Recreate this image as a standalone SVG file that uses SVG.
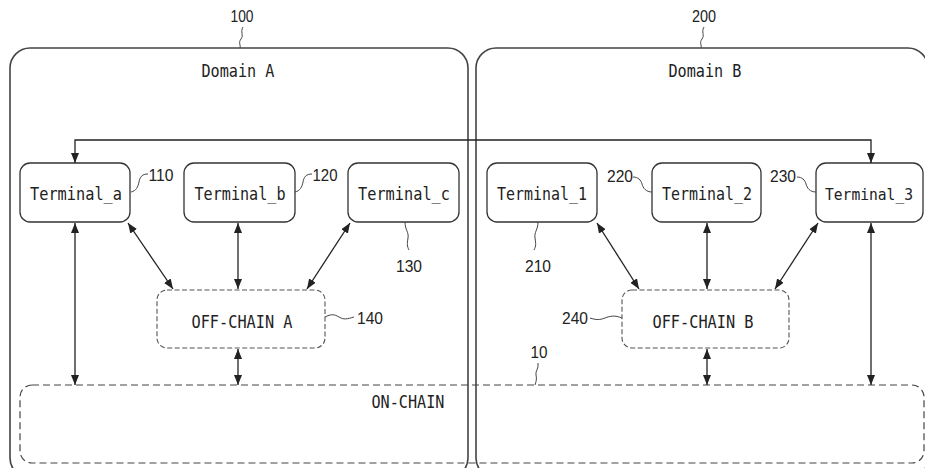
<svg xmlns="http://www.w3.org/2000/svg" width="925" height="468" viewBox="0 0 925 468">
<defs>
<marker id="ah" markerUnits="userSpaceOnUse" markerWidth="10" markerHeight="8" refX="10" refY="4" orient="auto-start-reverse">
<path d="M0,0 L10,4 L0,8 z" fill="#222"/>
</marker>
<style>
.dom{fill:none;stroke:#444;stroke-width:1.6}
.term{fill:#fff;stroke:#333;stroke-width:1.3}
.off{fill:#fff;stroke:#555;stroke-width:1.1;stroke-dasharray:5 2.5}
.on{fill:none;stroke:#444;stroke-width:1.2;stroke-dasharray:7 4}
.con{fill:none;stroke:#222;stroke-width:1.3;marker-start:url(#ah);marker-end:url(#ah)}
.lead{fill:none;stroke:#444;stroke-width:1}
.lbl{font-family:"DejaVu Sans Mono","Liberation Mono",monospace;font-size:17px;fill:#222;text-anchor:middle}
.num{font-family:"Liberation Sans",Arial,sans-serif;font-size:16.5px;fill:#222;text-anchor:middle}
</style>
</defs>
<rect width="925" height="468" fill="#fff"/>

<g id="domainA">
<rect class="dom" x="10" y="48" width="458" height="430" rx="20"/>
<text class="lbl" x="238" y="77" textLength="73" lengthAdjust="spacingAndGlyphs">Domain A</text>
<text class="num" x="242" y="22" textLength="23" lengthAdjust="spacingAndGlyphs">100</text>
<path class="lead" d="M243,27 c-3,5 1,8 -2,12 s0,6 -1,9"/>
</g>
<g id="domainB">
<rect class="dom" x="476" y="48" width="452" height="430" rx="20"/>
<text class="lbl" x="705" y="77" textLength="73" lengthAdjust="spacingAndGlyphs">Domain B</text>
<text class="num" x="704" y="22" textLength="24" lengthAdjust="spacingAndGlyphs">200</text>
<path class="lead" d="M704,27 c-3,5 1,8 -2,12 s0,6 -1,9"/>
</g>

<g id="onchain">
<rect class="on" x="20" y="385" width="904" height="78" rx="12"/>
<text class="lbl" x="408" y="408" textLength="73" lengthAdjust="spacingAndGlyphs">ON-CHAIN</text>
<text class="num" x="539" y="358" textLength="17" lengthAdjust="spacingAndGlyphs">10</text>
<path class="lead" d="M538,363 c1,6 -3,8 -2,12 s0,7 -1,10"/>
</g>

<g id="terminal_a">
<rect class="term" x="20" y="163" width="110" height="59" rx="10"/>
<text class="lbl" x="76" y="200" textLength="92" lengthAdjust="spacingAndGlyphs">Terminal_a</text>
<text class="num" x="161" y="181" textLength="25" lengthAdjust="spacingAndGlyphs">110</text>
<path class="lead" d="M148,174 c-6,0 -8,3 -9,8 s-3,9 -8,10"/>
</g>
<g id="terminal_b">
<rect class="term" x="184" y="163" width="111" height="59" rx="10"/>
<text class="lbl" x="240" y="200" textLength="91" lengthAdjust="spacingAndGlyphs">Terminal_b</text>
<text class="num" x="325" y="181" textLength="25" lengthAdjust="spacingAndGlyphs">120</text>
<path class="lead" d="M312,174 c-6,0 -8,3 -9,8 s-3,9 -8,10"/>
</g>
<g id="terminal_c">
<rect class="term" x="348" y="163" width="111" height="59" rx="10"/>
<text class="lbl" x="404" y="200" textLength="92" lengthAdjust="spacingAndGlyphs">Terminal_c</text>
<text class="num" x="409" y="272" textLength="26" lengthAdjust="spacingAndGlyphs">130</text>
<path class="lead" d="M405,222 c0,8 4,10 3,16 s-1,8 1,12"/>
</g>
<g id="terminal_1">
<rect class="term" x="487" y="163" width="110" height="59" rx="10"/>
<text class="lbl" x="542" y="200" textLength="90" lengthAdjust="spacingAndGlyphs">Terminal_1</text>
<text class="num" x="538" y="272" textLength="26" lengthAdjust="spacingAndGlyphs">210</text>
<path class="lead" d="M538,222 c0,8 -4,10 -3,16 s1,8 -1,12"/>
</g>
<g id="terminal_2">
<rect class="term" x="652" y="163" width="109" height="59" rx="10"/>
<text class="lbl" x="707" y="200" textLength="90" lengthAdjust="spacingAndGlyphs">Terminal_2</text>
<text class="num" x="620" y="182" textLength="26" lengthAdjust="spacingAndGlyphs">220</text>
<path class="lead" d="M633,177 c5,0 8,3 9,7 s4,8 10,8"/>
</g>
<g id="terminal_3">
<rect class="term" x="816" y="163" width="107" height="59" rx="10"/>
<text class="lbl" x="869" y="200" style="font-size:16px" textLength="88" lengthAdjust="spacingAndGlyphs">Terminal_3</text>
<text class="num" x="783" y="182" textLength="26" lengthAdjust="spacingAndGlyphs">230</text>
<path class="lead" d="M797,177 c5,0 8,3 9,7 s4,8 10,8"/>
</g>

<g id="offchain_a">
<rect class="off" x="157" y="290" width="168" height="58" rx="10"/>
<text class="lbl" x="242" y="328" textLength="101" lengthAdjust="spacingAndGlyphs">OFF-CHAIN A</text>
<text class="num" x="370" y="324" textLength="26" lengthAdjust="spacingAndGlyphs">140</text>
<path class="lead" d="M325,317 c6,-3 9,-3 14,0 s8,2 15,0"/>
</g>
<g id="offchain_b">
<rect class="off" x="622" y="290" width="167" height="58" rx="10"/>
<text class="lbl" x="703" y="328" textLength="101" lengthAdjust="spacingAndGlyphs">OFF-CHAIN B</text>
<text class="num" x="575" y="324" textLength="26" lengthAdjust="spacingAndGlyphs">240</text>
<path class="lead" d="M590,318 c6,2 10,2 15,0 s10,-3 17,0"/>
</g>

<g id="connectors">
<path class="con" d="M75,163 V140 H871 V163"/>
<path class="con" d="M75,223 V385"/>
<path class="con" d="M128,223 L173,289"/>
<path class="con" d="M238,223 V289"/>
<path class="con" d="M350,223 L307,289"/>
<path class="con" d="M238,349 V385"/>
<path class="con" d="M597,223 L639,289"/>
<path class="con" d="M707,223 V289"/>
<path class="con" d="M818,223 L775,289"/>
<path class="con" d="M707,349 V385"/>
<path class="con" d="M871,223 V385"/>
</g>
</svg>
